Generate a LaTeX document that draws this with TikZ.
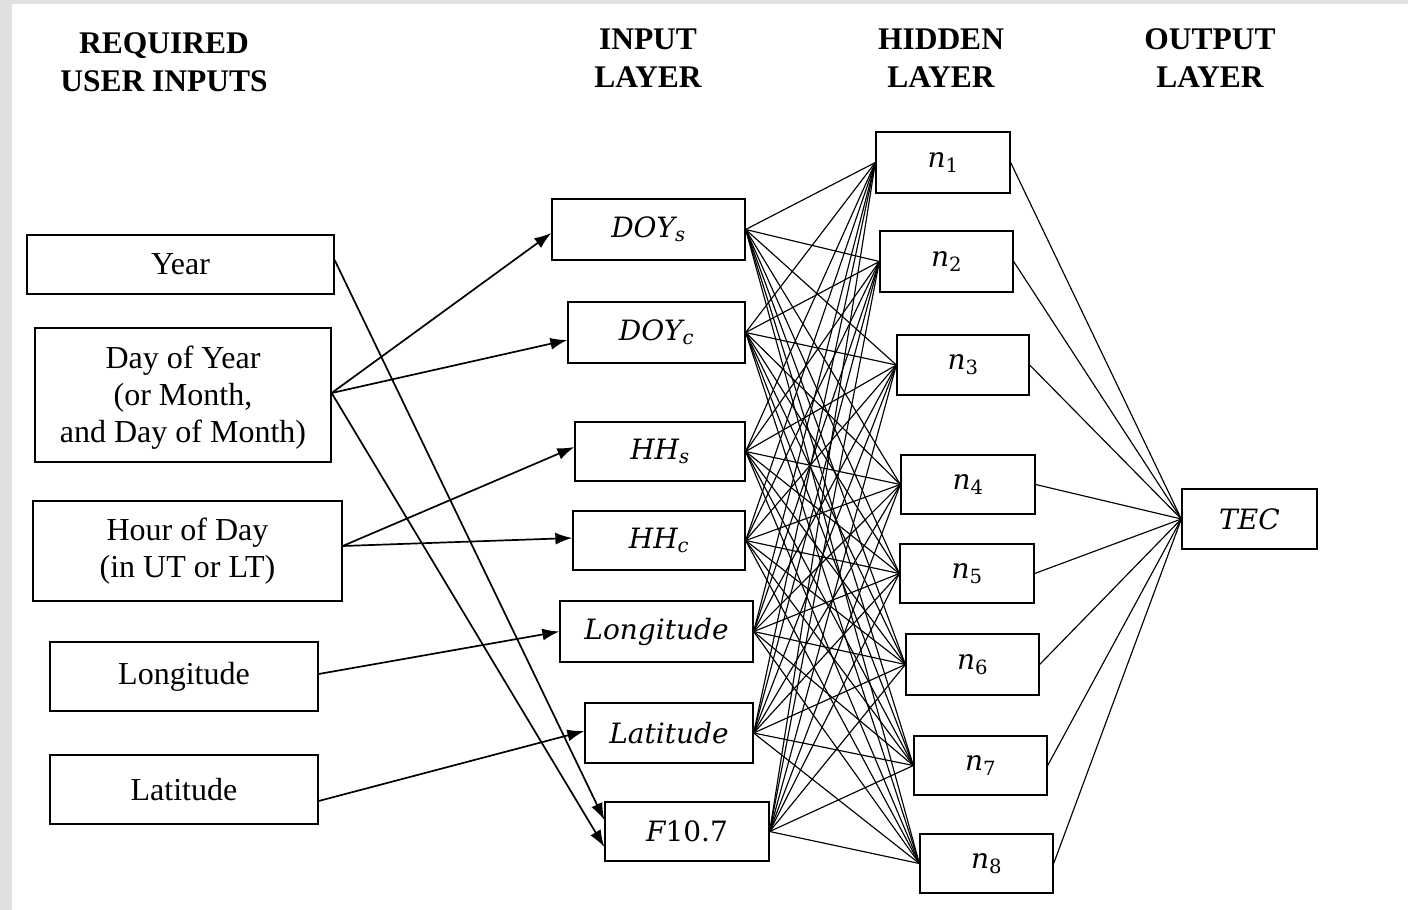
\RequirePackage{fix-cm}
\documentclass[tikz,border=0pt]{standalone}
\usepackage[no-math]{fontspec}
\setmainfont{Liberation Serif}
\newfontfamily\labfont{DejaVu Serif}
\usetikzlibrary{arrows.meta}
\definecolor{bggray}{RGB}{224,224,224}
\begin{document}
\begin{tikzpicture}[x=1pt,y=-1pt,
  box/.style={draw, line width=1.3pt, inner sep=0pt, align=center},
  sz/.style 2 args={minimum width=#1, minimum height=#2},
  utext/.style={font=\fontsize{32}{37}\selectfont},
  mtext/.style={font=\fontsize{28}{34}\selectfont\labfont\itshape},
  head/.style={align=center, inner sep=0pt, font=\fontsize{31.5}{38}\selectfont\bfseries},
  arr/.style={line width=1.7pt, -{Latex[length=17pt,width=12pt]}},
  mesh/.style={line width=1.15pt}]
\fill[bggray] (0,0) rectangle (1408,910);
\fill[white] (12,4) rectangle (1408,910);
\useasboundingbox (0,0) rectangle (1408,910);

% headings
\node[head] (hreq) at (164,62.5) {REQUIRED\\USER INPUTS};
\node[head] (hin)  at (648,58.5) {INPUT\\LAYER};
\node[head] (hhid) at (941,58.5) {HIDDEN\\LAYER};
\node[head] (hout) at (1210,58.5) {OUTPUT\\LAYER};

% required user inputs
\node[box,utext,sz={307}{59}]  (yr)   at (180.5,264.5) {Year};
\node[box,sz={296}{134}]       (doy)  at (183,395)     {};
\node[utext,align=center,inner sep=0pt] (doyt) at (183,398) {Day of Year\\(or Month,\\and Day of Month)};
\node[box,utext,sz={309}{100}] (hour) at (187.5,551)   {Hour of Day\\(in UT or LT)};
\node[box,utext,sz={268}{69}]  (lon)  at (184,676.5)   {Longitude};
\node[box,utext,sz={268}{69}]  (lat)  at (184,789.5)   {Latitude};

% input layer
\node[box,mtext,sz={193}{61}] (is)   at (648.5,229.5) {DOY\textsubscript{s}};
\node[box,mtext,sz={177}{61}] (ic)   at (656.5,332.5) {DOY\textsubscript{c}};
\node[box,mtext,sz={170}{59}] (hs)   at (660,451.5)   {HH\textsubscript{s}};
\node[box,mtext,sz={172}{59}] (hc)   at (659,540.5)   {HH\textsubscript{c}};
\node[box,mtext,sz={193}{61}] (ilon) at (656.5,631.5) {Longitude};
\node[box,mtext,sz={168}{60}] (ilat) at (669,733)     {Latitude};
\node[box,mtext,sz={164}{59}] (f)    at (687,831.5)   {F\upshape10.7};

% hidden layer
\node[box,mtext,sz={134}{61}] (h1) at (943,162.5)   {n\textsubscript{\upshape1}};
\node[box,mtext,sz={133}{61}] (h2) at (946.5,261.5) {n\textsubscript{\upshape2}};
\node[box,mtext,sz={132}{60}] (h3) at (963,365)     {n\textsubscript{\upshape3}};
\node[box,mtext,sz={134}{59}] (h4) at (968,484.5)   {n\textsubscript{\upshape4}};
\node[box,mtext,sz={134}{59}] (h5) at (967,573.5)   {n\textsubscript{\upshape5}};
\node[box,mtext,sz={133}{61}] (h6) at (972.5,664.5) {n\textsubscript{\upshape6}};
\node[box,mtext,sz={133}{59}] (h7) at (980.5,765.5) {n\textsubscript{\upshape7}};
\node[box,mtext,sz={133}{59}] (h8) at (986.5,863.5) {n\textsubscript{\upshape8}};

% output layer
\node[box,mtext,sz={135}{60}] (tec) at (1249.5,519) {TEC};

% user inputs -> input layer
\draw[arr] ([yshift=4.5pt]yr.east) -- ([yshift=11.5pt]f.west);
\draw[arr] ([yshift=2pt]doy.east) -- ([yshift=-15.5pt]f.west);
\draw[arr] ([yshift=2pt]doy.east) -- ([yshift=-3.5pt]is.west);
\draw[arr] ([yshift=2pt]doy.east) -- ([yshift=-7.5pt]ic.west);
\draw[arr] ([yshift=5pt]hour.east) -- ([yshift=4.5pt]hs.west);
\draw[arr] ([yshift=5pt]hour.east) -- ([yshift=2.5pt]hc.west);
\draw[arr] ([yshift=2.5pt]lon.east) -- (ilon.west);
\draw[arr] ([yshift=-11.5pt]lat.east) -- ([yshift=2pt]ilat.west);

% input -> hidden
\foreach \i in {is,ic,hs,hc,ilon,ilat,f}
  \foreach \j in {h1,h2,h3,h4,h5,h6,h7,h8}
    \draw[mesh] (\i.east) -- (\j.west);

% hidden -> output
\foreach \j in {h1,h2,h3,h4,h5,h6,h7,h8}
  \draw[mesh] (\j.east) -- (tec.west);
\end{tikzpicture}
\end{document}
